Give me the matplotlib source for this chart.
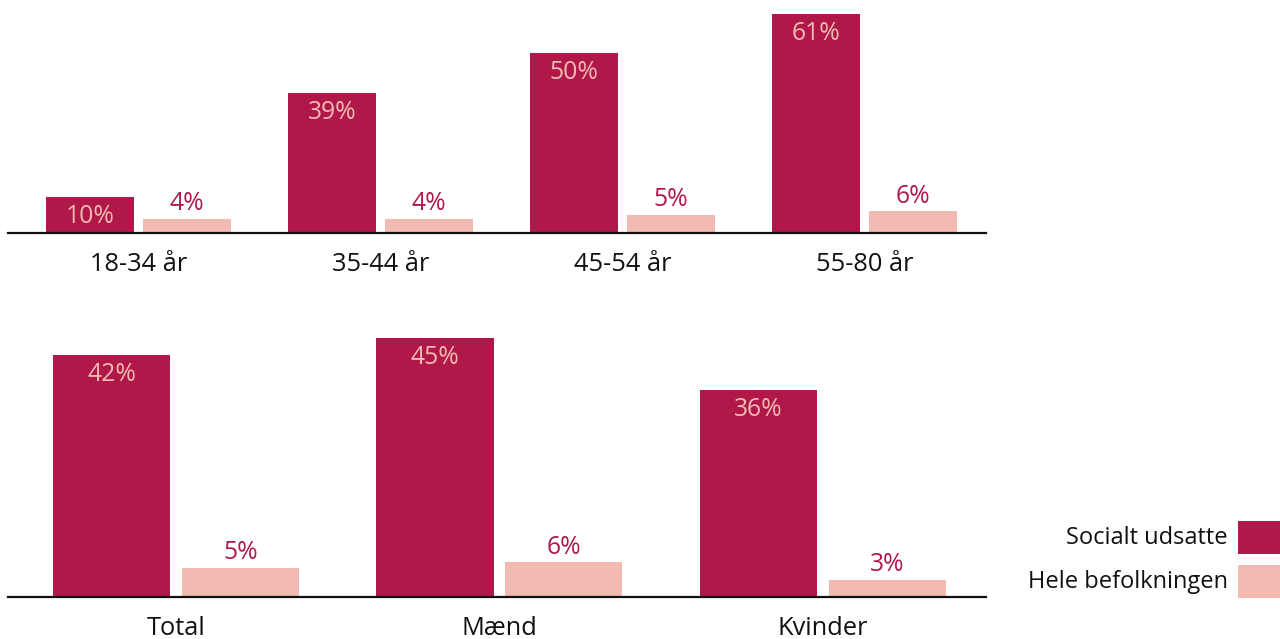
import matplotlib
matplotlib.use("Agg")
import matplotlib.pyplot as plt
from matplotlib.patches import Rectangle
import numpy as np

plt.rcParams['font.family'] = ['Open Sans', 'DejaVu Sans']

age_groups = ["18-34 år", "35-44 år", "45-54 år", "55-80 år"]
age_udsatte = [10, 39, 50, 61]
age_hele = [4, 4, 5, 6]

gender_groups = ["Total", "Mænd", "Kvinder"]
gender_udsatte = [42, 45, 36]
gender_hele = [5, 6, 3]

series_names = ["Socialt udsatte", "Hele befolkningen"]

DARK = "#B0184A"
LIGHT = "#F2BAB1"
FS_TICK = 18.3
FS_VAL = 17.8
FS_LEG = 17

W, H = 1280, 639
fig = plt.figure(figsize=(W / 100, H / 100), dpi=100)


def px_axes(x0, x1, ytop, ybot):
    return fig.add_axes([x0 / W, (H - ybot) / H, (x1 - x0) / W, (ybot - ytop) / H])


def draw(ax, groups, v1, v2, width, off, xlim, ylim):
    x = np.arange(len(groups))
    ax.bar(x - off, v1, width, color=DARK)
    ax.bar(x + off, v2, width, color=LIGHT)
    for xi, v in zip(x - off, v1):
        ax.annotate(f"{v}%", (xi, v), xytext=(0, -5), textcoords="offset points",
                    ha="center", va="top", color=LIGHT, fontsize=FS_VAL,
                    annotation_clip=False)
    for xi, v in zip(x + off, v2):
        ax.annotate(f"{v}%", (xi, v), xytext=(0, 2), textcoords="offset points",
                    ha="center", va="bottom", color=DARK, fontsize=FS_VAL,
                    annotation_clip=False)
    ax.set_xlim(*xlim)
    ax.set_ylim(*ylim)
    ax.set_xticks(x)
    ax.set_xticklabels(groups, fontsize=FS_TICK, color="#111111")
    ax.tick_params(axis="x", length=0, pad=13.5)
    ax.set_yticks([])
    for s in ["top", "right", "left"]:
        ax.spines[s].set_visible(False)
    ax.spines["bottom"].set_linewidth(1.6)
    ax.spines["bottom"].set_color("#111111")
    ax.patch.set_alpha(0)


ax1 = px_axes(8, 986, 14, 233)
draw(ax1, age_groups, age_udsatte, age_hele, 0.364, 0.2, (-0.539, 3.502), (0, 61))

ax2 = px_axes(8, 986, 338, 597)
draw(ax2, gender_groups, gender_udsatte, gender_hele, 0.362, 0.199, (-0.519, 2.504), (0, 45))

# legend
for name, col, ytop in [(series_names[0], DARK, 521), (series_names[1], LIGHT, 565)]:
    fig.add_artist(Rectangle((1238 / W, (H - ytop - 33) / H), 42 / W, 33 / H,
                             transform=fig.transFigure, color=col, lw=0))
    fig.text(1228 / W, (H - ytop - 17) / H, name, ha="right", va="center",
             fontsize=FS_LEG, color="#111111")

fig.savefig("out.png", dpi=100)
